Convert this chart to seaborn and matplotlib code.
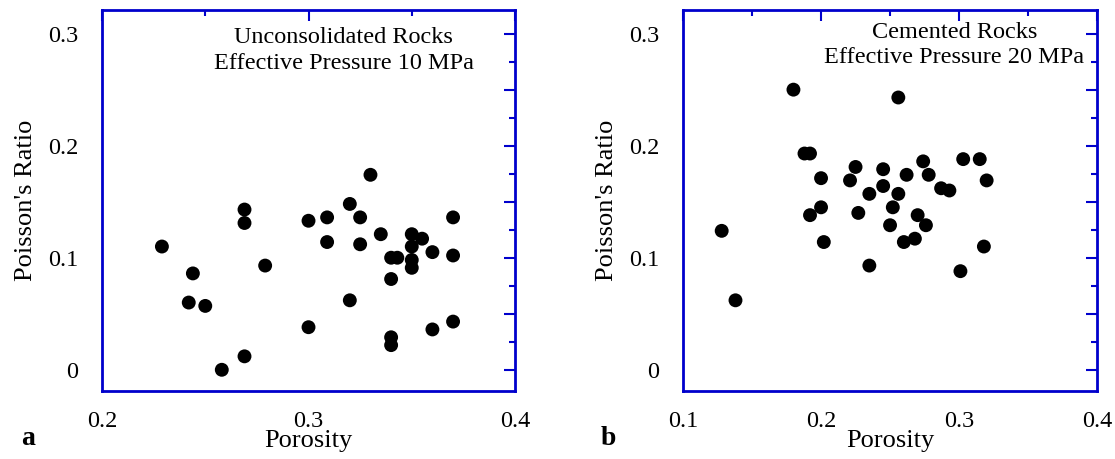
import matplotlib
matplotlib.use("Agg")
import matplotlib.pyplot as plt
import pandas as pd
import seaborn as sns
from matplotlib.ticker import FuncFormatter, MultipleLocator

# panel a: unconsolidated rocks, 10 MPa
porosity_a = [0.229, 0.244, 0.242, 0.250, 0.258, 0.269, 0.269, 0.269, 0.279,
              0.300, 0.300, 0.309, 0.309, 0.320, 0.320, 0.325, 0.325, 0.330,
              0.335, 0.340, 0.343, 0.340, 0.340, 0.340, 0.350, 0.350, 0.350,
              0.350, 0.355, 0.360, 0.360, 0.370, 0.370, 0.370]
poisson_a = [0.110, 0.086, 0.060, 0.057, 0.000, 0.143, 0.131, 0.012, 0.093,
             0.133, 0.038, 0.136, 0.114, 0.148, 0.062, 0.136, 0.112, 0.174,
             0.121, 0.100, 0.100, 0.081, 0.029, 0.022, 0.121, 0.110, 0.098,
             0.091, 0.117, 0.105, 0.036, 0.136, 0.102, 0.043]

# panel b: cemented rocks, 20 MPa
porosity_b = [0.128, 0.138, 0.180, 0.188, 0.192, 0.200, 0.200, 0.192, 0.202,
              0.221, 0.225, 0.227, 0.235, 0.235, 0.245, 0.245, 0.256, 0.256,
              0.252, 0.250, 0.260, 0.262, 0.268, 0.270, 0.274, 0.278, 0.276,
              0.287, 0.293, 0.303, 0.301, 0.315, 0.320, 0.318]
poisson_b = [0.124, 0.062, 0.250, 0.193, 0.193, 0.171, 0.145, 0.138, 0.114,
             0.169, 0.181, 0.140, 0.157, 0.093, 0.179, 0.164, 0.243, 0.157,
             0.145, 0.129, 0.114, 0.174, 0.117, 0.138, 0.186, 0.174, 0.129,
             0.162, 0.160, 0.188, 0.088, 0.188, 0.169, 0.110]

titles = ["Unconsolidated Rocks\nEffective Pressure 10 MPa",
          "Cemented Rocks\nEffective Pressure 20 MPa"]
panel_tags = ["a", "b"]
x_limits = [(0.2, 0.4), (0.1, 0.4)]


def y_label_fmt(v, pos):
    if abs(round(v * 10) - v * 10) > 1e-6:
        return ""
    return "0" if abs(v) < 1e-9 else f"{v:.1f}"


sns.set_theme(style="white")
plt.rcParams["font.family"] = ["Liberation Serif", "DejaVu Serif"]
plt.rcParams["text.color"] = "black"
plt.rcParams["axes.labelcolor"] = "black"

fig = plt.figure(figsize=(11.15, 4.59), dpi=100)
axes = [fig.add_axes([0.0915, 0.148, 0.3704, 0.830]),
        fig.add_axes([0.6126, 0.148, 0.3713, 0.830])]

frames = [pd.DataFrame({"porosity": porosity_a, "poisson": poisson_a}),
          pd.DataFrame({"porosity": porosity_b, "poisson": poisson_b})]

blue = "#0000cc"
text_pos = [(0.585, 0.955), (0.655, 0.97)]

for ax, df, title, tag, xlim, tpos in zip(axes, frames, titles, panel_tags, x_limits, text_pos):
    sns.scatterplot(data=df, x="porosity", y="poisson", color="black", s=100,
                    edgecolor="none", ax=ax, legend=False)
    ax.set_xlim(*xlim)
    ax.set_ylim(-0.019, 0.321)
    ax.xaxis.set_major_locator(MultipleLocator(0.1))
    ax.xaxis.set_minor_locator(MultipleLocator(0.05))
    ax.yaxis.set_major_locator(MultipleLocator(0.05))
    ax.yaxis.set_minor_locator(MultipleLocator(0.025))
    ax.yaxis.set_major_formatter(FuncFormatter(y_label_fmt))
    ax.xaxis.set_major_formatter(FuncFormatter(lambda v, p: f"{v:.1f}"))
    for side in ax.spines.values():
        side.set_color(blue)
        side.set_linewidth(2)
    ax.tick_params(which="both", direction="in", top=True, right=True,
                   color=blue, width=1.5, labelsize=17.5, labelcolor="black")
    ax.tick_params(which="major", length=8)
    ax.tick_params(which="minor", length=4)
    ax.tick_params(axis="x", which="major", pad=14)
    ax.tick_params(axis="y", which="major", pad=17)
    ax.set_xlabel("Porosity", fontsize=19, labelpad=-1)
    ax.set_ylabel("Poisson's Ratio", fontsize=19, labelpad=8)
    ax.text(tpos[0], tpos[1], title, transform=ax.transAxes, ha="center", va="top",
            fontsize=17.5, linespacing=1.3)
    ax.text(-0.18, -0.125, tag, transform=ax.transAxes, ha="center", va="center",
            fontsize=20, fontweight="bold")

fig.savefig("out.png", dpi=100)
